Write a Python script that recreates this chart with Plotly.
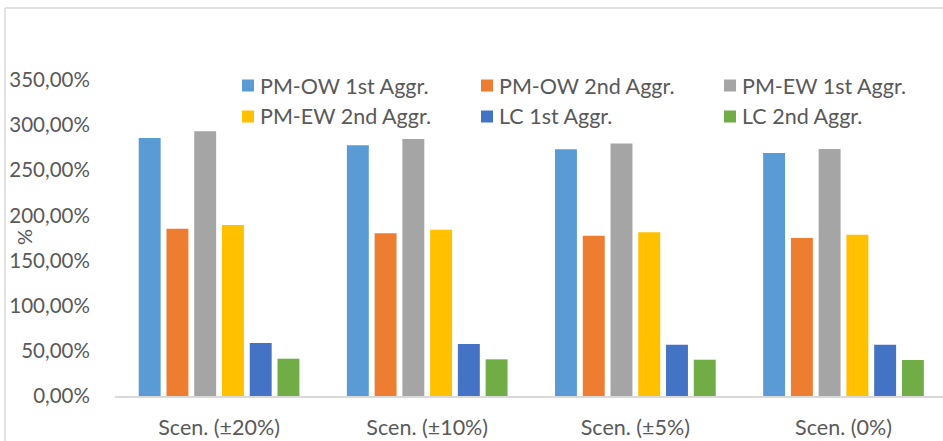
import plotly.graph_objects as go

# Scenario categories and aggregation series (values in %)
scenarios = ["Scen. (±20%)", "Scen. (±10%)", "Scen. (±5%)", "Scen. (0%)"]
series_names = ["PM-OW 1st Aggr.", "PM-OW 2nd Aggr.", "PM-EW 1st Aggr.",
                "PM-EW 2nd Aggr.", "LC 1st Aggr.", "LC 2nd Aggr."]
pm_ow_1st = [285.7, 277.6, 273.2, 269.1]
pm_ow_2nd = [185.3, 180.2, 177.5, 175.0]
pm_ew_1st = [293.1, 284.6, 279.8, 273.5]
pm_ew_2nd = [189.4, 184.2, 181.3, 178.6]
lc_1st = [58.7, 57.6, 56.8, 56.8]
lc_2nd = [41.3, 40.6, 40.2, 39.9]
series_values = [pm_ow_1st, pm_ow_2nd, pm_ew_1st, pm_ew_2nd, lc_1st, lc_2nd]
colors = ["#5B9BD5", "#ED7D31", "#A5A5A5", "#FFC000", "#4472C4", "#70AD47"]

y_tickvals = [0, 50, 100, 150, 200, 250, 300, 350]
y_ticktext = ["0,00%", "50,00%", "100,00%", "150,00%", "200,00%",
              "250,00%", "300,00%", "350,00%"]

W, H = 943, 441
ML, MR, MT, MB = 115, 0, 80, 45
PW, PH = W - ML - MR, H - MT - MB
FONT = "Lato"
TXT = "#595959"


def px(x):
    return (x - ML) / PW


def py(y):
    return (H - MB - y) / PH


fig = go.Figure()
for name, vals, col in zip(series_names, series_values, colors):
    fig.add_trace(go.Bar(x=scenarios, y=vals, name=name, marker_color=col,
                         marker_line_width=0, showlegend=False))

shapes = [
    # chart frame (top and left edges)
    dict(type="line", xref="paper", yref="paper", x0=px(5), x1=px(W + 5),
         y0=py(8), y1=py(8), line=dict(color="#D9D9D9", width=1.5)),
    dict(type="line", xref="paper", yref="paper", x0=px(5), x1=px(5),
         y0=py(8), y1=py(H + 5), line=dict(color="#D9D9D9", width=1.5)),
]
annotations = [
    dict(text="%", xref="paper", yref="paper", x=px(24), y=py(237),
         xanchor="center", yanchor="middle",
         showarrow=False, textangle=-90, font=dict(family=FONT, size=20, color=TXT)),
]

# legend: 3 columns x 2 rows
col_x = [242, 481, 724]
row_y = [85.5, 116.5]
for i, (name, col) in enumerate(zip(series_names, colors)):
    cx = col_x[i % 3]
    cy = row_y[i // 3]
    shapes.append(dict(type="rect", xref="paper", yref="paper",
                       x0=px(cx), x1=px(cx + 12), y0=py(cy - 6), y1=py(cy + 6),
                       fillcolor=col, line=dict(width=0)))
    annotations.append(dict(text=name, xref="paper", yref="paper",
                            x=px(cx + 16), y=py(cy), xanchor="left", yanchor="middle",
                            showarrow=False,
                            font=dict(family=FONT, size=21.5, color=TXT)))

fig.update_layout(
    width=W, height=H,
    margin=dict(l=ML, r=MR, t=MT, b=MB, pad=0),
    paper_bgcolor="white", plot_bgcolor="white",
    barmode="group", bargap=0.2, bargroupgap=0.21,
    font=dict(family=FONT, size=20, color=TXT),
    shapes=shapes, annotations=annotations,
    xaxis=dict(range=[-0.5, 3.478], showline=True, linecolor="#D9D9D9", linewidth=1.5,
               ticks="outside", ticklen=11, tickcolor="rgba(0,0,0,0)",
               showgrid=False, zeroline=False,
               tickfont=dict(family=FONT, size=21.5, color=TXT)),
    yaxis=dict(range=[0, 350], tickvals=y_tickvals, ticktext=y_ticktext,
               ticks="outside", ticklen=20, tickcolor="rgba(0,0,0,0)",
               showgrid=False, zeroline=False, showline=False,
               tickfont=dict(family=FONT, size=20.5, color=TXT)),
)

fig.write_html("out.html")
